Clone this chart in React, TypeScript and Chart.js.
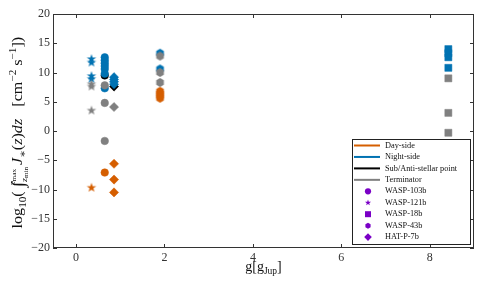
import React, { useEffect, useRef } from 'react';
import { Chart, registerables } from 'chart.js';
Chart.register(...registerables);

// ---------- data ----------
const planets = ['WASP-103b', 'WASP-121b', 'WASP-18b', 'WASP-43b', 'HAT-P-7b'];
const gravity = [0.65, 0.35, 8.42, 1.9, 0.86];
const markerShapes = ['circle', 'star', 'square', 'hexagon', 'diamond'];
const regions = ['Day-side', 'Night-side', 'Sub/Anti-stellar point', 'Terminator'];
const regionColors = ['#D55E00', '#0072B2', '#000000', '#808080'];

const daySide = [[-7.1], [-9.7], [], [6.8, 6.4, 6.0, 5.6], [-5.6, -8.3, -10.5]];
const nightSide = [
  [12.6, 12.1, 11.6, 11.1, 10.6, 9.8, 7.3],
  [12.3, 11.7, 9.4, 8.9],
  [14.0, 13.3, 12.6, 10.8],
  [13.3, 10.6],
  [9.2, 8.8, 8.4, 8.0],
];
const subAntiStellar = [[9.5], [], [], [], [7.6]];
const terminator = [[7.8, 4.8, -1.7], [8.0, 7.6, 3.5], [9.0, 3.1, -0.3], [12.8, 10.0, 8.3], [4.1]];

const xTicks = [0, 2, 4, 6, 8];
const yTicks = [-20, -15, -10, -5, 0, 5, 10, 15, 20];
const legendColor = '#7A00C6';

const FONT = "'Liberation Serif', 'DejaVu Serif', serif";

// ---------- marker helpers ----------
function pathShape(g: CanvasRenderingContext2D, shape: string, cx: number, cy: number, r: number) {
  g.beginPath();
  if (shape === 'star') {
    for (let i = 0; i < 10; i++) {
      const rr = i % 2 ? r * 0.4 : r;
      const a = -Math.PI / 2 + (i * Math.PI) / 5;
      const px = cx + rr * Math.cos(a);
      const py = cy + rr * Math.sin(a);
      if (i === 0) g.moveTo(px, py);
      else g.lineTo(px, py);
    }
  } else if (shape === 'hexagon') {
    for (let i = 0; i < 6; i++) {
      const a = -Math.PI / 2 + (i * Math.PI) / 3;
      const px = cx + r * Math.cos(a);
      const py = cy + r * Math.sin(a);
      if (i === 0) g.moveTo(px, py);
      else g.lineTo(px, py);
    }
  } else if (shape === 'circle') {
    g.arc(cx, cy, r, 0, Math.PI * 2);
  } else if (shape === 'square') {
    g.rect(cx - r, cy - r, 2 * r, 2 * r);
  } else if (shape === 'diamond') {
    g.moveTo(cx, cy - r);
    g.lineTo(cx + r, cy);
    g.lineTo(cx, cy + r);
    g.lineTo(cx - r, cy);
  }
  g.closePath();
}

function makeMarker(shape: string, color: string, r: number) {
  const c = document.createElement('canvas');
  const d = Math.ceil(r * 2 + 2);
  c.width = d;
  c.height = d;
  const g = c.getContext('2d')!;
  g.fillStyle = color;
  pathShape(g, shape, d / 2, d / 2, r);
  g.fill();
  return c;
}

function pointStyleFor(shape: string, color: string): any {
  if (shape === 'circle') return { pointStyle: 'circle', pointRadius: 3.8 };
  if (shape === 'square') return { pointStyle: 'rect', pointRadius: 5 };
  if (shape === 'diamond') return { pointStyle: 'rectRot', pointRadius: 4.6 };
  if (shape === 'star') return { pointStyle: makeMarker('star', color, 5), pointRadius: 5 };
  return { pointStyle: makeMarker('hexagon', color, 4.4), pointRadius: 5 };
}

// ---------- plugins ----------
const framePlugin = {
  id: 'frame',
  afterDatasetsDraw(chart: any) {
    const { ctx, chartArea: a, scales } = chart;
    ctx.save();
    ctx.strokeStyle = '#333';
    ctx.lineWidth = 1;
    ctx.strokeRect(a.left + 0.5, a.top + 0.5, a.right - a.left - 1, a.bottom - a.top - 1);
    ctx.beginPath();
    const tl = 4;
    xTicks.forEach((v) => {
      const px = Math.round(scales.x.getPixelForValue(v)) + 0.5;
      ctx.moveTo(px, a.bottom);
      ctx.lineTo(px, a.bottom - tl);
      ctx.moveTo(px, a.top);
      ctx.lineTo(px, a.top + tl);
    });
    yTicks.forEach((v) => {
      const py = Math.round(scales.y.getPixelForValue(v)) + 0.5;
      ctx.moveTo(a.left, py);
      ctx.lineTo(a.left + tl, py);
      ctx.moveTo(a.right, py);
      ctx.lineTo(a.right - tl, py);
    });
    ctx.stroke();
    ctx.restore();
  },
};

const legendPlugin = {
  id: 'customLegend',
  afterDraw(chart: any) {
    const { ctx } = chart;
    const bx = 352.5, by = 139.5, bw = 118, bh = 105;
    ctx.save();
    ctx.fillStyle = '#fff';
    ctx.fillRect(bx, by, bw, bh);
    ctx.strokeStyle = '#222';
    ctx.lineWidth = 1;
    ctx.strokeRect(bx, by, bw, bh);
    ctx.font = `8.3px ${FONT}`;
    ctx.textBaseline = 'middle';
    ctx.textAlign = 'left';
    const rowY = (i: number) => 145.5 + i * 11.45;
    regions.forEach((name, i) => {
      const y = rowY(i);
      ctx.strokeStyle = regionColors[i];
      ctx.lineWidth = 2;
      ctx.beginPath();
      ctx.moveTo(354, y);
      ctx.lineTo(380, y);
      ctx.stroke();
      ctx.fillStyle = '#111';
      ctx.fillText(name, 385, y);
    });
    const legR: Record<string, number> = { circle: 3.1, star: 3.2, square: 3, hexagon: 3, diamond: 3.8 };
    planets.forEach((name, j) => {
      const y = rowY(4 + j);
      ctx.fillStyle = legendColor;
      pathShape(ctx, markerShapes[j], 368, y, legR[markerShapes[j]]);
      ctx.fill();
      ctx.fillStyle = '#111';
      ctx.fillText(name, 385, y);
    });
    ctx.restore();
  },
};

type Seg = { t: string; s: number; dy?: number; it?: boolean };

const titlePlugin = {
  id: 'titles',
  afterDraw(chart: any) {
    const { ctx, chartArea: a } = chart;
    ctx.save();
    ctx.fillStyle = '#111';
    ctx.textBaseline = 'alphabetic';
    ctx.textAlign = 'left';
    const font = (sg: Seg) => `${sg.it ? 'italic ' : ''}${sg.s}px ${FONT}`;
    const width = (segs: Seg[]) =>
      segs.reduce((w, sg) => {
        ctx.font = font(sg);
        return w + ctx.measureText(sg.t).width;
      }, 0);
    const drawSegs = (segs: Seg[], x0: number, y0: number) => {
      let x = x0;
      segs.forEach((sg) => {
        ctx.font = font(sg);
        ctx.fillText(sg.t, x, y0 + (sg.dy || 0));
        x += ctx.measureText(sg.t).width;
      });
    };
    // x title
    const xs: Seg[] = [
      { t: 'g[g', s: 14 },
      { t: 'Jup', s: 9.5, dy: 3 },
      { t: ']', s: 14 },
    ];
    const cx = (a.left + a.right) / 2;
    drawSegs(xs, cx - width(xs) / 2, 271);

    // y title (rotated)
    const B = 14.5;
    const S = 10;
    const ys: Seg[] = [
      { t: 'log', s: B },
      { t: '10', s: S, dy: 3.5 },
      { t: '( ', s: B },
      { t: '\u222B', s: B + 3, dy: 2 },
      { t: 'z', s: 9, it: true, dy: -7.5 },
      { t: 'max', s: 6.5, dy: -6.5 },
      { t: ' J', s: B, it: true },
      { t: '\u2217', s: S, dy: 3.5 },
      { t: '(', s: B },
      { t: 'z', s: B, it: true },
      { t: ')', s: B },
      { t: 'dz', s: B, it: true },
      { t: '   [cm', s: B },
      { t: '\u22122', s: S, dy: -6 },
      { t: ' s', s: B },
      { t: '\u22121', s: S, dy: -6 },
      { t: '])', s: B },
    ];
    const total = width(ys);
    const k = 195 / total;
    const cy = (a.top + a.bottom) / 2;
    ctx.translate(22, cy);
    ctx.rotate(-Math.PI / 2);
    ctx.scale(k, 1);
    let x = -total / 2;
    ys.forEach((sg) => {
      ctx.font = font(sg);
      ctx.fillText(sg.t, x, sg.dy || 0);
      if (sg.t === '\u222B') {
        const lx = x + ctx.measureText(sg.t).width;
        ctx.font = `italic 9px ${FONT}`;
        ctx.fillText('z', lx, 4.5);
        const zw = ctx.measureText('z').width;
        ctx.font = `6.5px ${FONT}`;
        ctx.fillText('min', lx + zw, 6);
      }
      x += ctx.measureText(sg.t).width;
    });
    ctx.restore();
  },
};

// ---------- component ----------
export default function App() {
  const ref = useRef<HTMLCanvasElement | null>(null);
  useEffect(() => {
    document.body.style.margin = '0';
    const seriesByRegion = [daySide, nightSide, subAntiStellar, terminator];
    // drawing order: Chart.js paints the first dataset on top
    const regionOrder = [3, 1, 2, 0];
    const datasets: any[] = [];
    regionOrder.forEach((ri) => {
      planets.forEach((p, pi) => {
        const vals = seriesByRegion[ri][pi];
        if (!vals.length) return;
        const color = regionColors[ri];
        const ps = pointStyleFor(markerShapes[pi], color);
        datasets.push({
          label: `${p} ${regions[ri]}`,
          data: vals.map((v) => ({ x: gravity[pi], y: v })),
          backgroundColor: color,
          borderColor: color,
          pointBorderWidth: 0.5,
          showLine: false,
          ...ps,
        });
      });
    });
    const fmt = (v: number) => (v < 0 ? '\u2212' + Math.abs(v) : String(v));
    const chart = new Chart(ref.current!, {
      type: 'scatter',
      data: { datasets },
      options: {
        responsive: false,
        animation: false,
        devicePixelRatio: 1,
        layout: { padding: { top: 14, right: 9, left: 0, bottom: 0 } },
        plugins: { legend: { display: false }, tooltip: { enabled: false } },
        events: [],
        scales: {
          x: {
            type: 'linear',
            min: -0.52,
            max: 9,
            grid: { display: false, drawTicks: false },
            border: { display: false },
            afterBuildTicks: (s: any) => {
              s.ticks = xTicks.map((v) => ({ value: v }));
            },
            afterFit: (s: any) => {
              s.height = 42;
            },
            ticks: {
              padding: 3,
              color: '#333',
              font: { family: FONT, size: 12 },
              callback: (v: any) => fmt(Number(v)),
              maxRotation: 0,
            },
          },
          y: {
            type: 'linear',
            min: -20,
            max: 20,
            grid: { display: false, drawTicks: false },
            border: { display: false },
            afterBuildTicks: (s: any) => {
              s.ticks = yTicks.map((v) => ({ value: v }));
            },
            afterFit: (s: any) => {
              s.width = 53;
            },
            ticks: {
              padding: 3,
              color: '#333',
              font: { family: FONT, size: 12 },
              callback: (v: any) => fmt(Number(v)),
            },
          },
        },
      },
      plugins: [framePlugin, legendPlugin, titlePlugin],
    } as any);
    return () => chart.destroy();
  }, []);
  return <canvas ref={ref} width={483} height={290} style={{ display: 'block' }} />;
}
